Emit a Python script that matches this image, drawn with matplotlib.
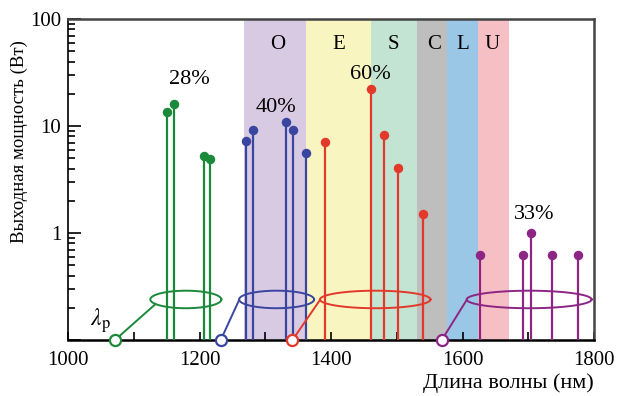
import numpy as np
import matplotlib
matplotlib.use("Agg")
from matplotlib import pyplot as plt

plt.rcParams['font.family'] = ['Liberation Serif', 'DejaVu Serif']
plt.rcParams['mathtext.fontset'] = 'stix'

# telecom bands (nm)
bandNames = ['O', 'E', 'S', 'C', 'L', 'U']
bandEdges = [1268, 1362, 1461, 1530, 1576, 1623, 1670]
bandColors = ['#d9cae3', '#f8f5c0', '#c4e4d3', '#bebebe', '#9bc7e6', '#f6bfc3']

# Raman lasers: pump wavelength, output lines, output power
greenPump = 1071
greenWl = [1151, 1161, 1206, 1216]
greenPw = [13.4, 16.0, 5.3, 4.9]

bluePump = 1232
blueWl = [1271, 1281, 1331, 1342, 1361]
bluePw = [7.2, 9.2, 10.8, 9.2, 5.6]

redPump = 1341
redWl = [1390, 1461, 1481, 1501, 1539]
redPw = [7.1, 22.0, 8.2, 4.1, 1.52]

purplePump = 1568
purpleWl = [1626, 1691, 1704, 1736, 1775]
purplePw = [0.62, 0.62, 1.0, 0.62, 0.62]

efficiency = ['28%', '40%', '60%', '33%']

groups = [
	(greenPump, greenWl, greenPw, '#1a8a3a', (1179, 54), (1185, 27)),
	(bluePump, blueWl, bluePw, '#3a45a0', (1317, 57), (1316, 15)),
	(redPump, redWl, redPw, '#e2392a', (1467, 84), (1460, 30)),
	(purplePump, purpleWl, purplePw, '#8d2585', (1701, 95), (1709, 1.5)),
]

fig = plt.figure(figsize=(6.19, 3.96), dpi=100)
ax = fig.add_axes([0.110, 0.141, 0.850, 0.811])
ax.set_yscale('log')
ax.set_xlim(1000, 1800)
ax.set_ylim(0.1, 100)

letterX = [1319, 1412, 1494, 1557, 1600, 1645]
for i, name in enumerate(bandNames):
	ax.axvspan(bandEdges[i], bandEdges[i + 1], color=bandColors[i], lw=0, zorder=0)
	ax.text(letterX[i], 58, name, ha='center', va='center', fontsize=15)

ellY = 0.24
ellH = 0.082
t = np.linspace(0, 2 * np.pi, 200)
for k, (pump, wl, pw, col, ell, lab) in enumerate(groups):
	ax.vlines(wl, 0.1, pw, color=col, lw=1.6, zorder=3)
	ax.plot(wl, pw, 'o', color=col, ms=5.8, zorder=4)
	ax.plot([pump], [0.1], 'o', mfc='white', mec=col, mew=1.6, ms=8, clip_on=False, zorder=6)
	cx, a = ell
	ex = cx + a * np.cos(t)
	ey = 10 ** (np.log10(ellY) + ellH * np.sin(t))
	ax.plot(ex, ey, color=col, lw=1.4, zorder=5)
	# connector from pump to ellipse
	ang = np.pi + 0.55 if k == 0 else np.pi + 0.05
	ax.plot([pump, cx + a * np.cos(ang)], [0.1, 10 ** (np.log10(ellY) + ellH * np.sin(ang))],
		color=col, lw=1.4, zorder=5)
	ax.text(lab[0], lab[1], efficiency[k], ha='center', va='center', fontsize=16)

ax.text(1049, 0.152, r'$\lambda_\mathrm{p}$', ha='center', va='center', fontsize=17)

ax.set_xticks(np.arange(1000, 1801, 100))
ax.set_xticklabels([str(v) if v % 200 == 0 else '' for v in range(1000, 1801, 100)])
ax.set_yticks([0.1, 1, 10, 100])
ax.set_yticklabels(['', '1', '10', '100'])
ax.tick_params(axis='x', direction='in', length=6, width=1.2, labelsize=15, pad=8)
ax.tick_params(axis='y', which='both', direction='in', labelsize=15, right=False, pad=5)
ax.tick_params(axis='y', which='major', length=9, width=1.2)
ax.tick_params(axis='y', which='minor', length=5, width=1.2)
ax.tick_params(axis='x', which='minor', bottom=False)

for s in ['top', 'right']:
	ax.spines[s].set_color('#444444')
	ax.spines[s].set_linewidth(1.8)
ax.spines['bottom'].set_linewidth(1.8)
ax.spines['left'].set_linewidth(1.2)

ax.set_ylabel('Выходная мощность (Вт)', fontsize=13.5)
ax.yaxis.set_label_coords(-0.076, 0.618)
ax.set_xlabel('Длина волны (нм)', fontsize=16, loc='right', labelpad=2)

fig.savefig('out.png', dpi=100)
